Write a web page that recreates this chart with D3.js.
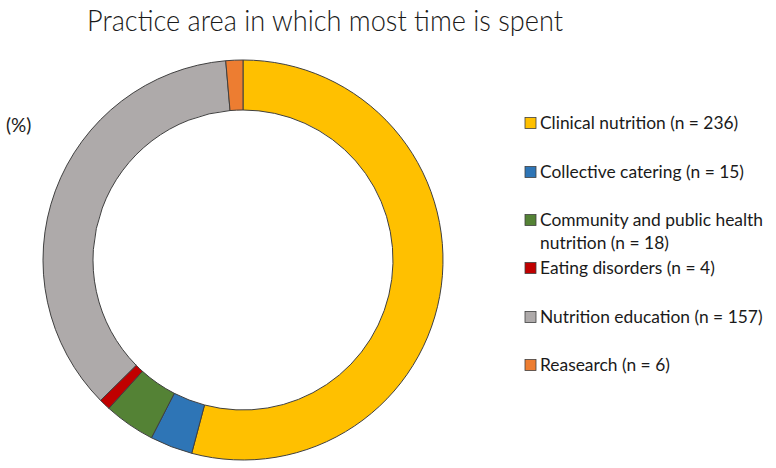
<!DOCTYPE html>
<meta charset="utf-8">
<script src="https://d3js.org/d3.v7.min.js"></script>
<style>
  body { margin: 0; background: #fff; }
  text { font-family: Lato, "Open Sans", sans-serif; fill: #1a1a1a; }
</style>
<div id="my_dataviz"></div>
<script>

// data
var categories = ["Clinical nutrition", "Collective catering", "Community and public health nutrition",
                  "Eating disorders", "Nutrition education", "Reasearch"];
var counts = [236, 15, 18, 4, 157, 6];
var colors = ["#FFC000", "#2E75B6", "#548235", "#C00000", "#AEAAAA", "#ED7D31"];
// legend labels as they are wrapped in the picture
var legendLines = [
  ["Clinical nutrition (n = 236)"],
  ["Collective catering (n = 15)"],
  ["Community and public health", "nutrition (n = 18)"],
  ["Eating disorders (n = 4)"],
  ["Nutrition education (n = 157)"],
  ["Reasearch (n = 6)"]
];

var width = 776, height = 468;
var cx = 243, cy = 260, outerR = 200, innerR = 150;

var svg = d3.select("#my_dataviz")
  .append("svg")
    .attr("width", width)
    .attr("height", height);

// title (light weight, squeezed to the width it has in the picture)
svg.append("text")
  .attr("x", 87)
  .attr("y", 31)
  .attr("textLength", 476)
  .attr("lengthAdjust", "spacingAndGlyphs")
  .style("font-size", "29px")
  .style("font-weight", 300)
  .text("Practice area in which most time is spent");

svg.append("text")
  .attr("x", 6)
  .attr("y", 132)
  .style("font-size", "19px")
  .text("(%)");

var data = categories.map(function(c, i) { return {name: c, n: counts[i], color: colors[i]}; });

var pie = d3.pie()
  .value(function(d) { return d.n; })
  .sort(null);

var arc = d3.arc()
  .innerRadius(innerR)
  .outerRadius(outerR);

svg.append("g")
    .attr("transform", "translate(" + cx + "," + cy + ")")
  .selectAll("path")
  .data(pie(data))
  .enter()
  .append("path")
    .attr("d", arc)
    .attr("fill", function(d) { return d.data.color; })
    .attr("stroke", "#404040")
    .attr("stroke-width", 1);

// legend
var rowY = [123, 172, 220, 268, 317, 365];
var lineH = 23;
var legend = svg.append("g");

data.forEach(function(d, i) {
  legend.append("rect")
    .attr("x", 525)
    .attr("y", rowY[i] - 5.5)
    .attr("width", 11)
    .attr("height", 11)
    .attr("fill", d.color)
    .attr("stroke", "#404040")
    .attr("stroke-width", 0.8);
  legendLines[i].forEach(function(line, j) {
    legend.append("text")
      .attr("x", 540)
      .attr("y", rowY[i] + j * lineH)
      .attr("dy", "0.35em")
      .style("font-size", "17.4px")
      .text(line);
  });
});

</script>
